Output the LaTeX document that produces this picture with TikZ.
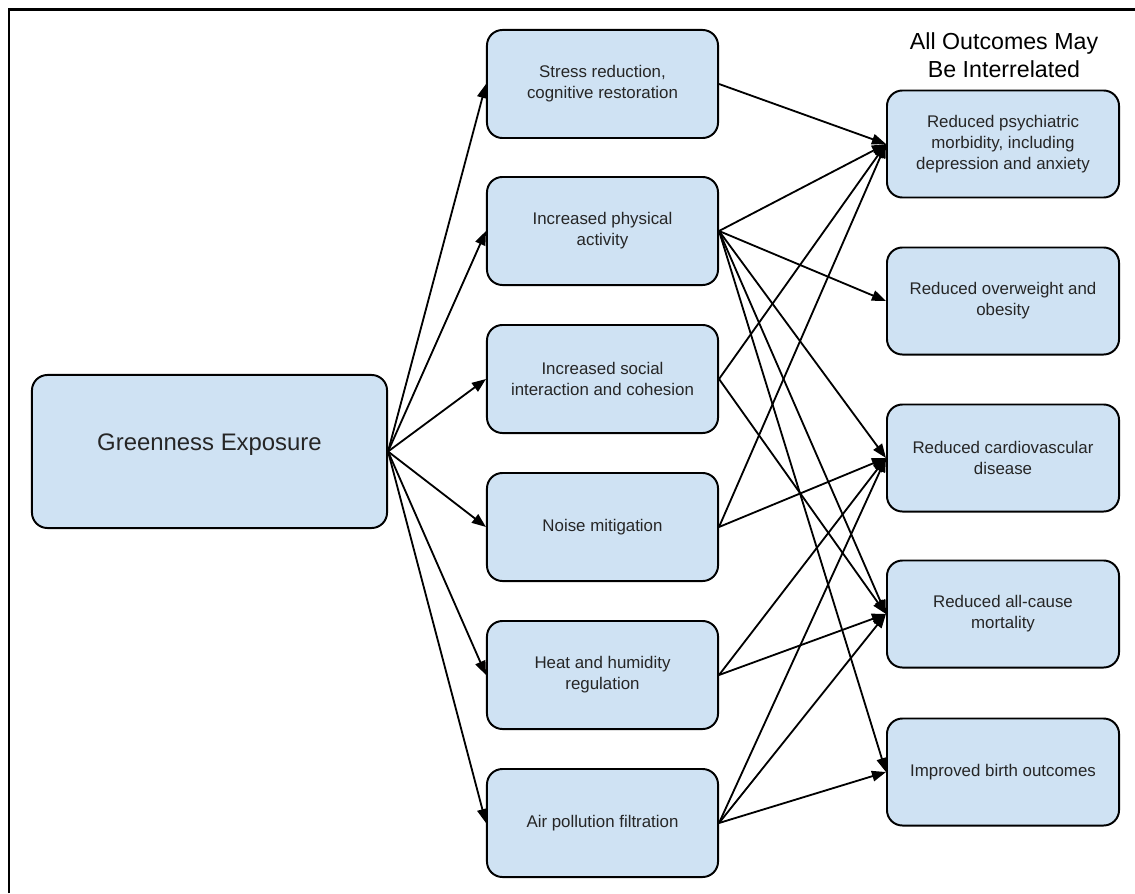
\documentclass[tikz,border=0pt]{standalone}
\usepackage{fontspec}
\setmainfont{Liberation Sans}
\usetikzlibrary{arrows.meta}
\definecolor{boxfill}{HTML}{CFE2F3}
\definecolor{boxtext}{HTML}{262626}
\begin{document}
\begin{tikzpicture}[x=0.025cm,y=-0.025cm,
  box/.style={draw=black, line width=1.4pt, fill=boxfill, rounded corners=11pt, align=center,
    font=\fontsize{12}{15}\selectfont, text=boxtext, inner sep=0pt},
  mid/.style={box, minimum width=5.775cm, minimum height=2.7cm},
  outc/.style={box, minimum width=5.8cm, minimum height=2.675cm},
  link/.style={line width=1.3pt, -{Triangle[length=10pt,width=7.5pt]}}]
\useasboundingbox (0,0) rectangle (1135,893);
\draw[line width=1.6pt] (9,893) -- (9,9.5) -- (1135,9.5);

\node[box, minimum width=8.875cm, minimum height=3.825cm, font=\fontsize{17}{20}\selectfont, text depth=14pt] (g) at (209.5,451.5) {Greenness Exposure};

\node[mid] (m1) at (602.5,84) {Stress reduction,\\cognitive restoration};
\node[mid] (m2) at (602.5,231) {Increased physical\\activity};
\node[mid] (m3) at (602.5,379) {Increased social\\interaction and cohesion};
\node[mid] (m4) at (602.5,527) {Noise mitigation};
\node[mid] (m5) at (602.5,675) {Heat and humidity\\regulation};
\node[mid] (m6) at (602.5,823) {Air pollution filtration};

\node[outc] (r1) at (1003,144) {Reduced psychiatric\\morbidity, including\\depression and anxiety};
\node[outc] (r2) at (1003,301) {Reduced overweight and\\obesity};
\node[outc] (r3) at (1003,458) {Reduced cardiovascular\\disease};
\node[outc] (r4) at (1003,614) {Reduced all-cause\\mortality};
\node[outc] (r5) at (1003,772) {Improved birth outcomes};

\node[align=center, font=\fontsize{16.5}{19.5}\selectfont, inner sep=0pt] (hdr) at (1004,55) {All Outcomes May\\Be Interrelated};

\foreach \m in {m1,m2,m3,m4,m5,m6} {
  \draw[link] (g.east) -- (\m.west);
}
\draw[link] (m1.east) -- (r1.west);
\draw[link] (m2.east) -- (r1.west);
\draw[link] (m2.east) -- (r2.west);
\draw[link] (m2.east) -- (r3.west);
\draw[link] (m2.east) -- (r4.west);
\draw[link] (m2.east) -- (r5.west);
\draw[link] (m3.east) -- (r1.west);
\draw[link] (m3.east) -- (r4.west);
\draw[link] (m4.east) -- (r1.west);
\draw[link] (m4.east) -- (r3.west);
\draw[link] (m5.east) -- (r3.west);
\draw[link] (m5.east) -- (r4.west);
\draw[link] (m6.east) -- (r3.west);
\draw[link] (m6.east) -- (r4.west);
\draw[link] (m6.east) -- (r5.west);
\end{tikzpicture}
\end{document}
